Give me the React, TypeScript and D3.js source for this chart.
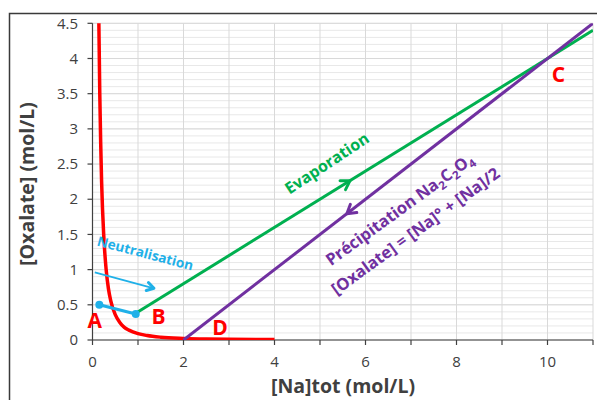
import React from "react";
import * as d3 from "d3";

// Data
const redCurve: [number, number][] = [
  [0.13, 5.2], [0.14, 4.5], [0.16, 3.5], [0.18, 2.8], [0.2, 2.25], [0.25, 1.45], [0.3, 1.0],
  [0.35, 0.73], [0.4, 0.56], [0.5, 0.36], [0.6, 0.25], [0.7, 0.18], [0.8, 0.14],
  [1.0, 0.09], [1.2, 0.063], [1.5, 0.04], [2.0, 0.023], [2.5, 0.014], [3.0, 0.01], [4.0, 0.006],
];
const greenLine: [number, number][] = [[0.95, 0.38], [11, 4.4]];
const purpleLine: [number, number][] = [[2, 0], [11, 4.5]];
const blueSegment: [number, number][] = [[0.15, 0.5], [0.95, 0.37]];
const blueArrow: [number, number][] = [[0.05, 0.96], [1.35, 0.735]];
const greenArrowAt: [number, number] = [5.66, 2.65];
const purpleArrowAt: [number, number] = [5.59, 1.79];
const pointLabels = [
  { t: "A", x: 0.05, y: 0.17 },
  { t: "B", x: 1.45, y: 0.23 },
  { t: "C", x: 10.24, y: 3.66 },
  { t: "D", x: 2.8, y: 0.07 },
];
const xTicks = d3.range(0, 12, 1);
const xLabels = [0, 2, 4, 6, 8, 10];
const yTicks = d3.range(0, 4.51, 0.5);
const yMinor = d3.range(0, 4.51, 0.1);

const W = 597, H = 400;
const FONT = "'Open Sans', sans-serif";

export default function App() {
  const x = d3.scaleLinear().domain([0, 11]).range([92.5, 593]);
  const y = d3.scaleLinear().domain([0, 4.5]).range([340, 23.3]);
  const line = d3.line<[number, number]>().x((d) => x(d[0])).y((d) => y(d[1]));
  const curve = d3.line<[number, number]>().x((d) => x(d[0])).y((d) => y(d[1])).curve(d3.curveMonotoneX);

  const chevron = (px: number, py: number, ang: number, color: string, len = 10) => {
    const a1 = ang + Math.PI - 0.55, a2 = ang + Math.PI + 0.55;
    const d = `M${px + len * Math.cos(a1)},${py + len * Math.sin(a1)}L${px},${py}L${px + len * Math.cos(a2)},${py + len * Math.sin(a2)}`;
    return <path d={d} fill="none" stroke={color} strokeWidth={3} strokeLinecap="round" strokeLinejoin="round" />;
  };

  const gAng = Math.atan2(y(greenLine[1][1]) - y(greenLine[0][1]), x(greenLine[1][0]) - x(greenLine[0][0]));
  const pAng = Math.atan2(y(purpleLine[0][1]) - y(purpleLine[1][1]), x(purpleLine[0][0]) - x(purpleLine[1][0]));
  const bAng = Math.atan2(y(blueArrow[1][1]) - y(blueArrow[0][1]), x(blueArrow[1][0]) - x(blueArrow[0][0]));

  const gx = x(greenArrowAt[0]);
  const gy = y(greenLine[0][1] + (greenLine[1][1] - greenLine[0][1]) * (greenArrowAt[0] - greenLine[0][0]) / (greenLine[1][0] - greenLine[0][0]));
  const px = x(purpleArrowAt[0]);
  const py = y((purpleArrowAt[0] - 2) * 0.5);

  return (
    <svg width={W} height={H} style={{ position: "absolute", left: 0, top: 0, background: "#fff" }} fontFamily={FONT}>
      <defs>
        <clipPath id="plot">
          <rect x={x(0)} y={y(4.5)} width={x(11) - x(0)} height={y(0) - y(4.5)} />
        </clipPath>
      </defs>
      <rect x={9.5} y={13.5} width={W + 10} height={H + 10} fill="#fff" stroke="#3a3a3a" strokeWidth={1.5} />
      {yMinor.map((v, i) => (
        <line key={"ym" + i} x1={x(0)} x2={x(11)} y1={y(v)} y2={y(v)} stroke="#e8e8e8" strokeWidth={1} />
      ))}
      {yTicks.map((v, i) => (
        <line key={"yg" + i} x1={x(0)} x2={x(11)} y1={y(v)} y2={y(v)} stroke="#d9d9d9" strokeWidth={1} />
      ))}
      {xTicks.slice(1).map((v, i) => (
        <line key={"xg" + i} x1={x(v)} x2={x(v)} y1={y(0)} y2={y(4.5)} stroke="#d9d9d9" strokeWidth={1} />
      ))}
      <line x1={x(0)} x2={x(0)} y1={y(0)} y2={y(4.5)} stroke="#404040" strokeWidth={1.2} />
      <line x1={x(0)} x2={x(11)} y1={y(0)} y2={y(0)} stroke="#404040" strokeWidth={1.2} />
      {yTicks.map((v, i) => (
        <g key={"yt" + i}>
          <line x1={x(0) - 5} x2={x(0)} y1={y(v)} y2={y(v)} stroke="#404040" strokeWidth={1.2} />
          <text x={78} y={y(v)} dy="0.35em" textAnchor="end" fontSize={15} fill="#404040">{v}</text>
        </g>
      ))}
      {xTicks.map((v, i) => (
        <line key={"xt" + i} x1={x(v)} x2={x(v)} y1={y(0)} y2={y(0) + 5} stroke="#404040" strokeWidth={1.2} />
      ))}
      {xLabels.map((v, i) => (
        <text key={"xl" + i} x={x(v)} y={362} dy="0.35em" textAnchor="middle" fontSize={15} fill="#404040">{v}</text>
      ))}
      <text transform="translate(34,184) rotate(-90)" textAnchor="middle" fontSize={19.5} fontWeight="bold" fill="#404040">[Oxalate] (mol/L)</text>
      <text x={343} y={393} textAnchor="middle" fontSize={19.5} fontWeight="bold" fill="#404040">[Na]tot (mol/L)</text>

      <g clipPath="url(#plot)">
        <path d={curve(redCurve) || ""} fill="none" stroke="#ff0000" strokeWidth={3.5} />
        <path d={line(greenLine) || ""} fill="none" stroke="#00b050" strokeWidth={3} />
        <path d={line(purpleLine) || ""} fill="none" stroke="#7030a0" strokeWidth={3} />
      </g>
      <path d={line(blueSegment) || ""} fill="none" stroke="#1fb0e8" strokeWidth={3} />
      {blueSegment.map((p, i) => (
        <circle key={"bc" + i} cx={x(p[0])} cy={y(p[1])} r={4} fill="#1fb0e8" />
      ))}
      <path d={line(blueArrow) || ""} fill="none" stroke="#1fb0e8" strokeWidth={1.8} />
      {chevron(x(blueArrow[1][0]), y(blueArrow[1][1]), bAng, "#1fb0e8", 8)}
      {chevron(gx, gy, gAng, "#00b050")}
      {chevron(px, py, pAng, "#7030a0")}

      <text transform="translate(144,258) rotate(14.7)" textAnchor="middle" fontSize={13.6} fontWeight="bold" fill="#1fb0e8">Neutralisation</text>
      <text transform={`translate(330,168) rotate(-33.5)`} textAnchor="middle" fontSize={16} fontWeight="bold" fill="#00b050">Evaporation</text>
      <g transform="translate(403,214) rotate(-36)" fill="#7030a0" fontWeight="bold" fontSize={16.5} textAnchor="middle">
        <text x={0} y={0}>
          Précipitation Na<tspan fontSize={11.5} dy={4}>2</tspan><tspan dy={-4}>C</tspan><tspan fontSize={11.5} dy={4}>2</tspan><tspan dy={-4}>O</tspan><tspan fontSize={11.5} dy={4}>4</tspan>
        </text>
        <text x={0} y={27}>[Oxalate] = [Na]° + [Na]/2</text>
      </g>
      {pointLabels.map((l) => (
        <text key={l.t} x={x(l.x)} y={y(l.y)} textAnchor="middle" fontSize={21} fontWeight="bold" fill="#ff0000">{l.t}</text>
      ))}
    </svg>
  );
}
